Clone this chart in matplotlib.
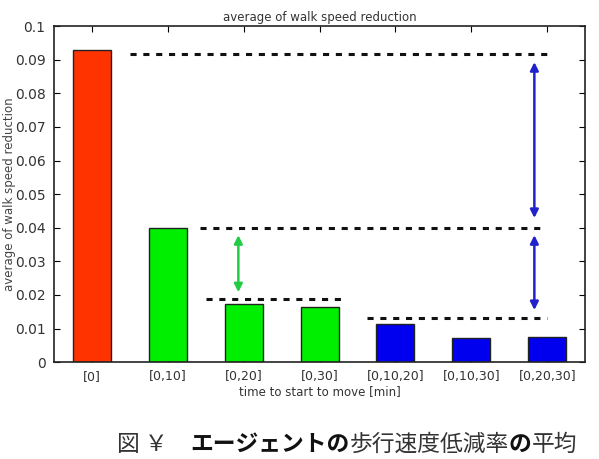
import matplotlib.pyplot as plt

categories = ["[0]", "[0,10]", "[0,20]", "[0,30]", "[0,10,20]", "[0,10,30]", "[0,20,30]"]
values = [0.0929, 0.0399, 0.0173, 0.0164, 0.0113, 0.0071, 0.0074]
bar_colors = ["#ff3300", "#00ee00", "#00ee00", "#00ee00", "#0000ee", "#0000ee", "#0000ee"]

# dashed reference levels with their x extents
ref_levels = [0.0917, 0.0399, 0.01875, 0.0131]
ref_x0 = [0.5, 1.42, 1.51, 3.63]
ref_x1 = [6.07, 5.96, 3.33, 6.0]

# double arrows
arrow_x = [1.93, 5.83, 5.83]
arrow_lo = [0.0208, 0.0429, 0.0155]
arrow_hi = [0.0378, 0.0893, 0.0378]
arrow_colors = ["#22cc44", "#2222cc", "#2222cc"]

yticks = [0, 0.01, 0.02, 0.03, 0.04, 0.05, 0.06, 0.07, 0.08, 0.09, 0.1]
ytick_labels = ["0", "0.01", "0.02", "0.03", "0.04", "0.05", "0.06", "0.07", "0.08", "0.09", "0.1"]

fig = plt.figure(figsize=(5.99, 4.59), dpi=100)
ax = fig.add_axes([0.090, 0.211, 0.887, 0.732])

x = range(len(categories))
ax.bar(x, values, width=0.5, color=bar_colors, edgecolor="#222222", linewidth=1.0, zorder=2)

for lvl, a, b in zip(ref_levels, ref_x0, ref_x1):
    ax.plot([a, b], [lvl, lvl], color="#111111", lw=2.2, linestyle=(0, (2, 2.2)), zorder=3)

for xa, lo, hi, c in zip(arrow_x, arrow_lo, arrow_hi, arrow_colors):
    ax.annotate("", xy=(xa, hi), xytext=(xa, lo),
                arrowprops=dict(arrowstyle="<|-|>", color=c, lw=1.8,
                                mutation_scale=12, shrinkA=0, shrinkB=0))

ax.set_xlim(-0.5, 6.5)
ax.set_ylim(0, 0.1)
ax.set_xticks(list(x))
ax.set_xticklabels(categories, fontsize=9, color="#333333")
ax.set_yticks(yticks)
ax.set_yticklabels(ytick_labels, fontsize=10, color="#333333")
ax.tick_params(direction="in", top=True, right=True, length=4, width=0.8, pad=6)
for s in ax.spines.values():
    s.set_linewidth(1.2)
    s.set_color("#222222")

ax.set_title("average of walk speed reduction", fontsize=8.5, color="#333333", pad=4)
ax.set_xlabel("time to start to move [min]", fontsize=8.5, color="#333333", labelpad=1)
ax.set_ylabel("average of walk speed reduction", fontsize=8.5, color="#444444", labelpad=-1)

# caption, bold and normal parts placed one after another
parts = ["図 ￥\u3000", "エージェントの", "歩行速度低減率", "の", "平均"]
weights = ["normal", "bold", "normal", "bold", "normal"]
fam = ["Noto Sans CJK JP", "DejaVu Sans"]
prev = fig.text(0.195, 0.018, parts[0], fontsize=16.4, family=fam, weight=weights[0], color="#333333")
for txt, w in zip(parts[1:], weights[1:]):
    prev = ax.annotate(txt, xy=(1, 0), xycoords=prev, fontsize=16.4, family=fam, weight=w,
                       color="#111111" if w == "bold" else "#333333",
                       va="bottom", ha="left", annotation_clip=False)

fig.savefig("out.png", dpi=100)
